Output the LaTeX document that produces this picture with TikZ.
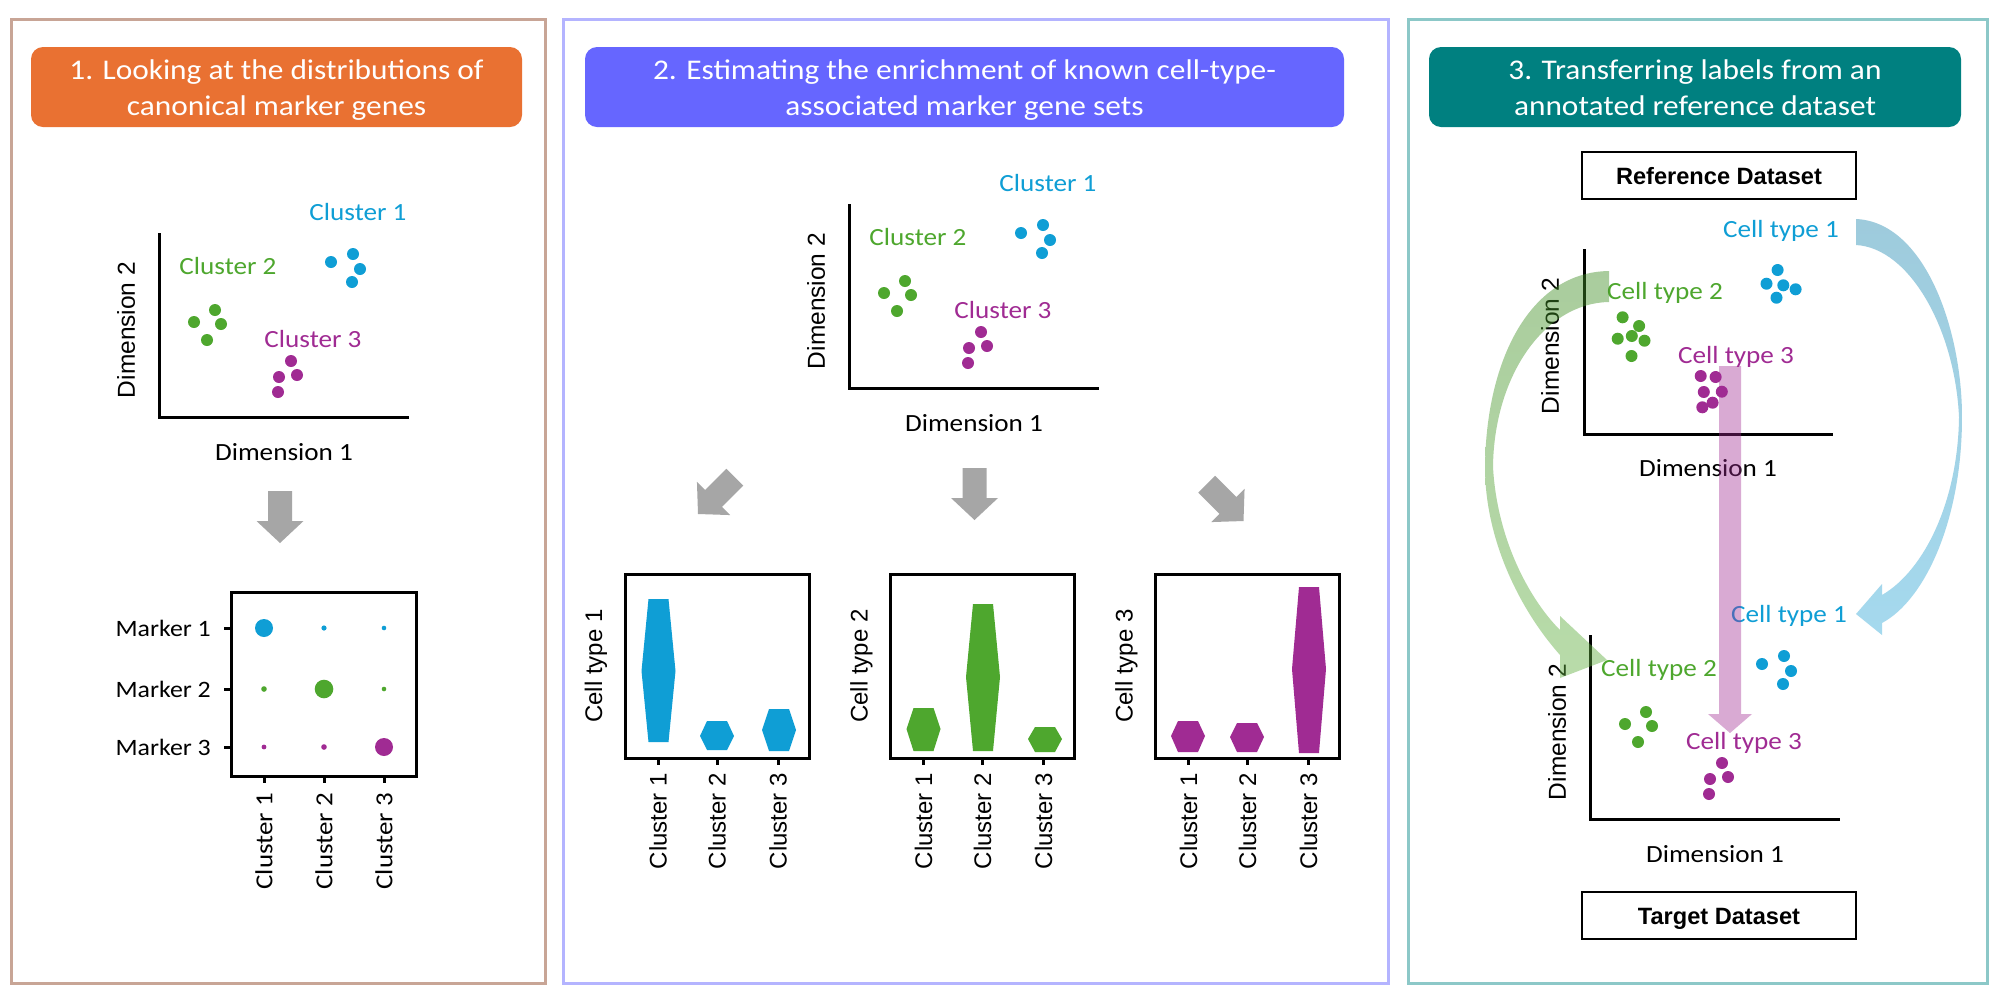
\documentclass[tikz,border=0pt]{standalone}
\usepackage{fontspec}
\newfontfamily\aptos[FakeStretch=1.1]{Carlito}
\newfontfamily\arialf{Liberation Sans}
\definecolor{cblue}{RGB}{15,158,213}
\definecolor{cgreen}{RGB}{78,167,46}
\definecolor{cpurple}{RGB}{160,43,147}
\definecolor{corange}{RGB}{233,113,50}
\definecolor{cindigo}{RGB}{102,102,255}
\definecolor{cteal}{RGB}{0,128,128}
\definecolor{bordA}{RGB}{200,165,150}
\definecolor{bordB}{RGB}{180,180,255}
\definecolor{bordC}{RGB}{140,200,200}
\definecolor{cgray}{RGB}{166,166,166}
\definecolor{bluetop}{RGB}{158,203,220}
\definecolor{bluebot}{RGB}{165,217,238}
\definecolor{greentop}{RGB}{66,144,39}
\definecolor{greenbot}{RGB}{99,177,66}
\tikzset{
  panelbox/.style={line width=3pt},
  htext/.style={text=white,font=\aptos\fontsize{28.5}{34}\selectfont,anchor=base,inner sep=0pt},
  lab/.style={font=\aptos\fontsize{24.7}{30}\selectfont,anchor=base,inner sep=0pt},
  mlab/.style={font=\aptos\fontsize{23.5}{30}\selectfont,inner sep=0pt},
  alab/.style={font=\arialf\fontsize{24.5}{30}\selectfont,inner sep=0pt},
  vlab/.style={font=\arialf\fontsize{24}{30}\selectfont,inner sep=0pt},
  axisline/.style={line width=3pt,line join=miter},
  plotbox/.style={line width=3pt,line join=miter},
  tick/.style={line width=3pt},
  dsbox/.style={draw,line width=1.3pt,minimum width=274pt,minimum height=47pt,inner sep=0pt,
    text height=17pt,text depth=0pt,font=\arialf\bfseries\fontsize{23.6}{28}\selectfont},
}
\newcommand\grayarrow[3]{\fill[cgray,shift={(#1,#2)},rotate=#3] (-12,-52) -- (12,-52) -- (12,-22) -- (23.5,-22) -- (0,0) -- (-23.5,-22) -- (-12,-22) -- cycle;}
\newcommand\violin[5]{\fill[#5] ({#1-10},#2) -- ({#1+10},#2) -- ({#1+17},#4) -- ({#1+10},#3) -- ({#1-10},#3) -- ({#1-17},#4) -- cycle;}
\newcommand\dt[3]{\fill[#1] (#2,#3) circle[radius=6pt];}
\newcommand\stdscatter[4]{%
  \draw[axisline] (0,-184) -- (0,0) -- (250,0);
  \node[alab,rotate=90] (#1dy) at (-33,-87) {Dimension 2};
  \node[lab,anchor=center] (#1dx) at (125,35) {Dimension 1};
  \node[lab,text=cblue] (#1la) at (199,-197) {#2};
  \node[lab,text=cgreen] (#1lb) at (69,-143) {#3};
  \node[lab,text=cpurple] (#1lc) at (154,-70) {#4};
  \dt{cblue}{172}{-155}\dt{cblue}{194}{-163}\dt{cblue}{201}{-148}\dt{cblue}{193}{-135}
  \dt{cgreen}{35}{-95}\dt{cgreen}{56}{-107}\dt{cgreen}{62}{-93}\dt{cgreen}{48}{-77}
  \dt{cpurple}{132}{-56}\dt{cpurple}{120}{-40}\dt{cpurple}{138}{-42}\dt{cpurple}{119}{-25}
}
\newcommand\violinbox[3]{% #1 prefix, #2 left x, #3 label
  \draw[plotbox] (#2,574) rectangle ({#2+184},758);
  \node[vlab,rotate=90,anchor=base] (#1y) at ({#2-23},666) {#3};
  \foreach \k/\o in {1/33,2/92,3/153}{
    \draw[tick] ({#2+\o},758) -- ({#2+\o},765);
    \node[vlab,rotate=90,anchor=east] (#1x\k) at ({#2+\o},773) {Cluster \k};
  }
}
\begin{document}
\begin{tikzpicture}[x=1pt,y=-1pt]
\useasboundingbox (0,0) rectangle (2000,997);
\fill[white] (0,0) rectangle (2000,997);

% ---------- Panel 1 ----------
\draw[panelbox,bordA] (11,19) rectangle (545,983);
\fill[corange,rounded corners=12pt] (31,47) rectangle (522,127);
\node[htext] (h1a) at (276.5,79) {1. Looking at the distributions of};
\node[htext] (h1b) at (276.5,115) {canonical marker genes};
\begin{scope}[shift={(159,417)}]
  \stdscatter{pa}{Cluster 1}{Cluster 2}{Cluster 3}
\end{scope}
\grayarrow{280}{543}{0}
% dot plot
\draw[plotbox] (231,592) rectangle (416,776);
\foreach \r/\yy in {1/628,2/689,3/747}{
  \draw[tick] (224,\yy) -- (231,\yy);
  \node[mlab,anchor=east] (mk\r) at (211,\yy) {Marker \r};
}
\foreach \c/\xx in {1/264,2/324,3/384}{
  \draw[tick] (\xx,776) -- (\xx,783);
  \node[mlab,font=\aptos\fontsize{24.5}{30}\selectfont,rotate=90,anchor=east] (dc\c) at (\xx,793) {Cluster \c};
}
\fill[cblue] (264,628) circle[radius=9pt];
\fill[cblue] (324,628) circle[radius=2.6pt];
\fill[cblue] (384,628) circle[radius=2.3pt];
\fill[cgreen] (264,689) circle[radius=2.8pt];
\fill[cgreen] (324,689) circle[radius=9.3pt];
\fill[cgreen] (384,689) circle[radius=2.3pt];
\fill[cpurple] (264,747) circle[radius=2.4pt];
\fill[cpurple] (324,747) circle[radius=2.8pt];
\fill[cpurple] (384,747) circle[radius=9pt];

% ---------- Panel 2 ----------
\draw[panelbox,bordB] (563,19) rectangle (1388,983);
\fill[cindigo,rounded corners=12pt] (585,47) rectangle (1344,127);
\node[htext] (h2a) at (964.5,79) {2. Estimating the enrichment of known cell-type-};
\node[htext] (h2b) at (964.5,115) {associated marker gene sets};
\begin{scope}[shift={(849,388)}]
  \stdscatter{pb}{Cluster 1}{Cluster 2}{Cluster 3}
\end{scope}
\grayarrow{698}{514}{-45}
\grayarrow{974.5}{520}{0}
\grayarrow{1243.5}{521}{45}
\violinbox{va}{625}{Cell type 1}
\violinbox{vb}{890.5}{Cell type 2}
\violinbox{vc}{1155.5}{Cell type 3}
\violin{658.5}{599}{742}{671}{cblue}
\violin{717}{721}{750}{736}{cblue}
\violin{779}{709}{751}{730}{cblue}
\violin{923.5}{708}{751}{729}{cgreen}
\violin{983}{604}{751}{677}{cgreen}
\violin{1045}{727}{752}{739}{cgreen}
\violin{1188}{721}{752}{736}{cpurple}
\violin{1247}{723}{752}{737}{cpurple}
\violin{1309}{587}{753}{669}{cpurple}

% ---------- Panel 3 ----------
\draw[panelbox,bordC] (1408,19) rectangle (1987,983);
\fill[cteal,rounded corners=12pt] (1429,47) rectangle (1961,127);
\node[htext] (h3a) at (1695,79) {3. Transferring labels from an};
\node[htext] (h3b) at (1695,115) {annotated reference dataset};
\node[dsbox] (refbox) at (1719,175.5) {Reference Dataset};
\node[dsbox] (tgtbox) at (1719,915.5) {Target Dataset};
% reference scatter
\begin{scope}[shift={(1584,434)}]
  \draw[axisline] (0,-185) -- (0,0) -- (249,0);
  \node[alab,rotate=90] (rfdy) at (-34,-88) {Dimension 2};
  \node[lab,anchor=center] (rfdx) at (124,34) {Dimension 1};
  \node[lab,text=cblue] (rfla) at (197,-197) {Cell type 1};
  \node[lab,text=cgreen] (rflb) at (81,-135) {Cell type 2};
  \node[lab,text=cpurple] (rflc) at (152,-71) {Cell type 3};
  \dt{cblue}{193.6}{-164}\dt{cblue}{182.5}{-150.3}\dt{cblue}{199.3}{-148.7}\dt{cblue}{211.6}{-144.7}\dt{cblue}{192.5}{-136.3}
  \dt{cgreen}{38.6}{-116.7}\dt{cgreen}{55.1}{-108}\dt{cgreen}{33.7}{-95.3}\dt{cgreen}{47.8}{-98}\dt{cgreen}{60.5}{-93.3}\dt{cgreen}{47.5}{-78}
  \dt{cpurple}{116.7}{-58}\dt{cpurple}{131.6}{-57}\dt{cpurple}{119.8}{-42}\dt{cpurple}{137.8}{-42.3}\dt{cpurple}{128.6}{-31.3}\dt{cpurple}{118.3}{-26.7}
\end{scope}
% target scatter
\begin{scope}[shift={(1590,819)}]
  \stdscatter{tg}{Cell type 1}{Cell type 2}{Cell type 3}
\end{scope}
% curved transfer arrows
\shade[top color=bluetop,bottom color=bluebot]
  (1856,219) .. controls (1925,222) and (1962,330) .. (1962,417)
  .. controls (1962,520) and (1925,600) .. (1882,623)
  -- (1882,635) -- (1856,614) -- (1882,584) -- (1882,595)
  .. controls (1925,570) and (1958,500) .. (1959,417)
  .. controls (1955,330) and (1910,248) .. (1856,245) -- cycle;
\shade[top color=greentop,bottom color=greenbot,opacity=0.45]
  (1609,271) .. controls (1530,272) and (1486,360) .. (1485,467)
  .. controls (1485,540) and (1520,610) .. (1560,655)
  -- (1560,678) -- (1607,660) -- (1560,616) -- (1560,630)
  .. controls (1530,600) and (1497,540) .. (1493,467)
  .. controls (1494,375) and (1545,303) .. (1609,302) -- cycle;
\fill[cpurple,opacity=0.4] (1719,366) -- (1741,366) -- (1741,714) -- (1752,714) -- (1730,733) -- (1708,714) -- (1719,714) -- cycle;
\end{tikzpicture}
\end{document}
